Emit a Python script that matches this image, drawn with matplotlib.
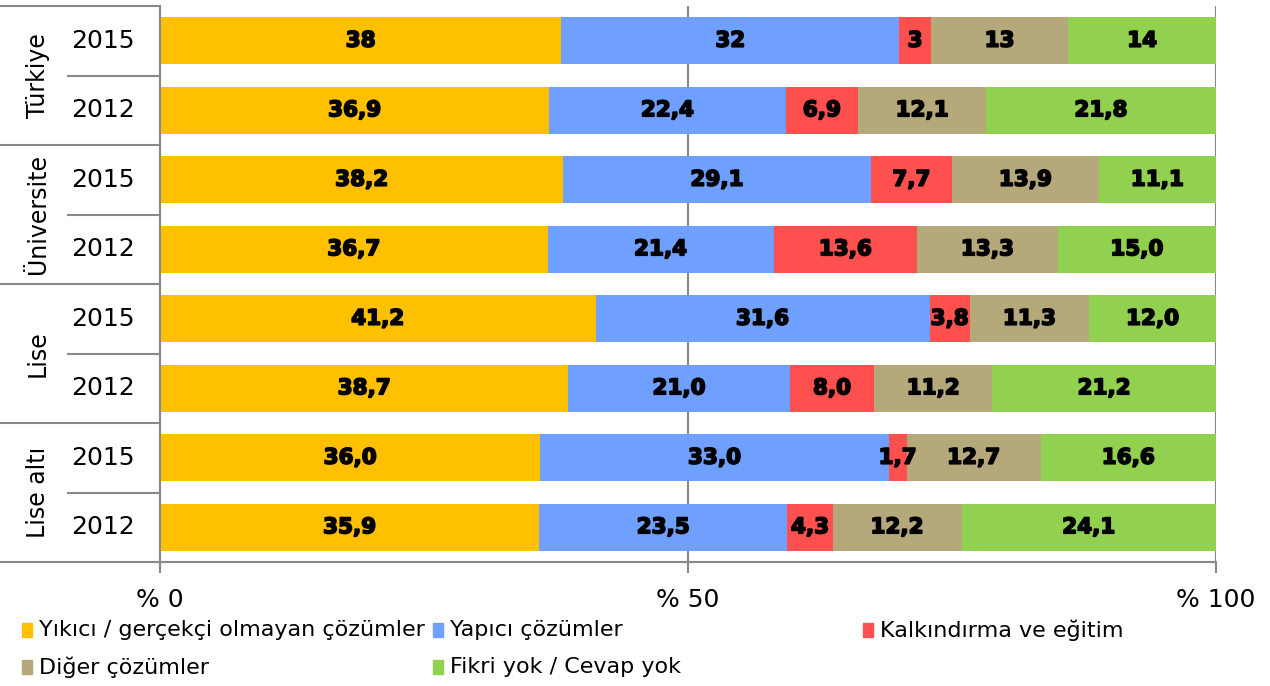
import numpy as np
import matplotlib.pyplot as plt
import matplotlib.patheffects as pe
from matplotlib.patches import Rectangle

plt.rcParams['font.family'] = ['DejaVu Sans']

groups = ['Türkiye', 'Üniversite', 'Lise', 'Lise altı']
years = ['2015', '2012', '2015', '2012', '2015', '2012', '2015', '2012']
series = ['Yıkıcı / gerçekçi olmayan çözümler', 'Yapıcı çözümler', 'Kalkındırma ve eğitim',
          'Diğer çözümler', 'Fikri yok / Cevap yok']
colors = ['#FFC000', '#6F9FFF', '#FF5050', '#B5A87A', '#92D050']

yikici = [38, 36.9, 38.2, 36.7, 41.2, 38.7, 36.0, 35.9]
yapici = [32, 22.4, 29.1, 21.4, 31.6, 21.0, 33.0, 23.5]
kalkindirma = [3, 6.9, 7.7, 13.6, 3.8, 8.0, 1.7, 4.3]
diger = [13, 12.1, 13.9, 13.3, 11.3, 11.2, 12.7, 12.2]
fikri_yok = [14, 21.8, 11.1, 15.0, 12.0, 21.2, 16.6, 24.1]
decimals = [0, 1, 1, 1, 1, 1, 1, 1]

data = np.array([yikici, yapici, kalkindirma, diger, fikri_yok])
pct = data / data.sum(axis=0) * 100  # 100% stacked

fig = plt.figure(figsize=(12.7, 6.86), dpi=100)
ax = fig.add_axes([160 / 1270, 1 - 562 / 686, 1056 / 1270, 556 / 686])

rows = np.arange(len(years))
left = np.zeros(len(years))
heavy = [pe.withStroke(linewidth=1.2, foreground='black')]
for i in range(len(series)):
    ax.barh(rows, pct[i], left=left, height=0.67, color=colors[i], label=series[i], zorder=2)
    for r in rows:
        txt = f'{data[i][r]:.{decimals[r]}f}'.replace('.', ',')
        ax.text(left[r] + pct[i][r] / 2, r, txt, ha='center', va='center',
                fontsize=15.5, fontweight='bold', path_effects=heavy, zorder=3)
    left += pct[i]

ax.set_xlim(0, 100)
ax.set_ylim(7.5, -0.5)
ax.set_yticks([])
ax.set_xticks([0, 50, 100])
ax.set_xticklabels(['% 0', '% 50', '% 100'], fontsize=18)
ax.tick_params(axis='x', length=8, color='#888888', width=1.5, pad=11)
ax.xaxis.grid(True, color='#888888', linewidth=1.5, zorder=0)
for s in ['top', 'right']:
    ax.spines[s].set_visible(False)
for s in ['left', 'bottom']:
    ax.spines[s].set_color('#888888')
    ax.spines[s].set_linewidth(1.5)

# category axis labels and separators
trans = ax.get_yaxis_transform()
x_outer = -160 / 1056
x_inner = -92 / 1056
for r in rows:
    ax.text(-57 / 1056, r, years[r], transform=trans, ha='center', va='center', fontsize=18)
for g in range(len(groups)):
    ax.text(-122 / 1056, 2 * g + 0.5, groups[g], transform=trans, ha='center', va='center',
            rotation=90, fontsize=17)
    ax.plot([x_outer, 0], [2 * g - 0.5, 2 * g - 0.5], transform=trans, color='#888888',
            linewidth=1.5, clip_on=False)
    ax.plot([x_inner, 0], [2 * g + 0.5, 2 * g + 0.5], transform=trans, color='#888888',
            linewidth=1.5, clip_on=False)
ax.plot([x_outer, 0], [7.5, 7.5], transform=trans, color='#888888', linewidth=1.5, clip_on=False)

# legend
leg_pos = [(22, 630), (433, 630), (863, 630), (22, 667), (433, 667)]
for i in range(len(series)):
    x, y = leg_pos[i]
    fig.patches.append(Rectangle((x / 1270, 1 - (y + 7) / 686), 10 / 1270, 14 / 686,
                                 transform=fig.transFigure, color=colors[i]))
    fig.text((x + 17) / 1270, 1 - y / 686, series[i], ha='left', va='center', fontsize=16)

plt.savefig('out.png', dpi=100)
